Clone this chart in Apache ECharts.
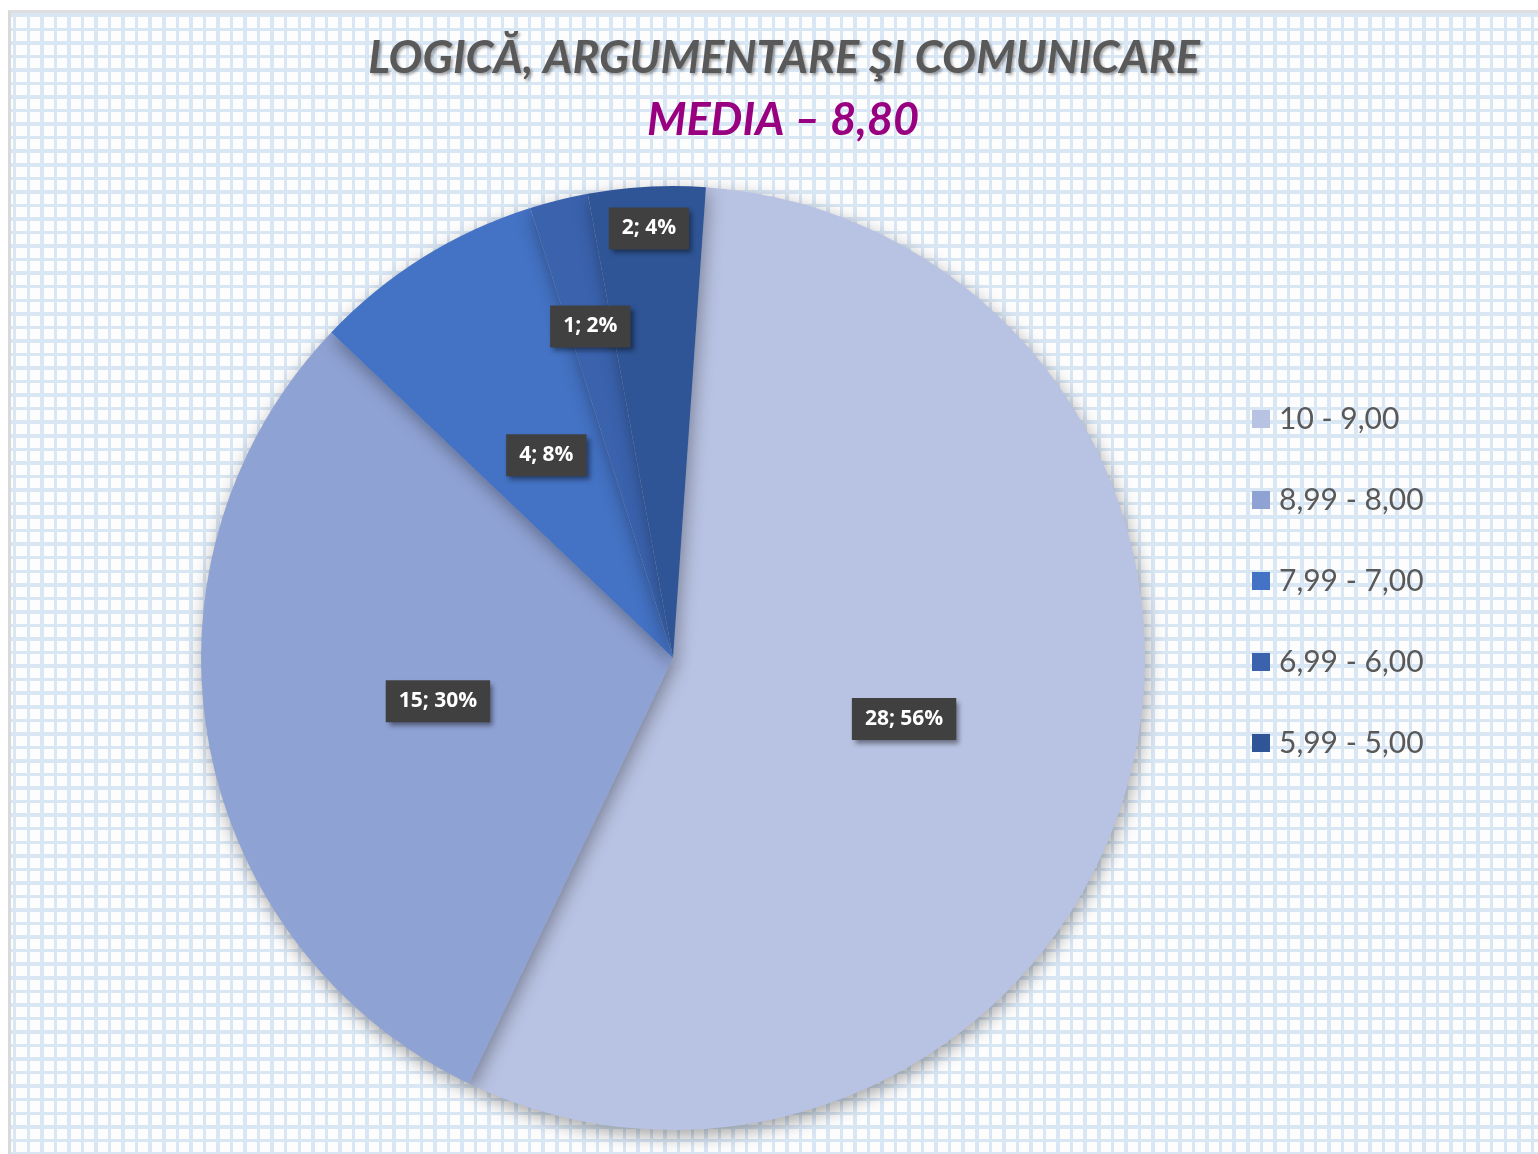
<!DOCTYPE html>
<html>
<head>
<meta charset="utf-8">
<script src="https://cdn.jsdelivr.net/npm/echarts@6/dist/echarts.min.js"></script>
<style>
	html, body { margin: 0; padding: 0; background: #ffffff; }
	#wrap {
		position: relative;
		width: 1538px;
		height: 1154px;
		overflow: hidden;
	}
	#paper {
		position: absolute;
		left: 8px;
		top: 10px;
		right: 0;
		bottom: 0;
		border-left: 3px solid #d9d9d9;
		border-top: 3px solid #dedede;
		background-color: #fdfdfd;
		background-image:
			repeating-linear-gradient(to right, #d9e6f4 0px, #d9e6f4 3.5px, transparent 3.5px, transparent 13.55px),
			repeating-linear-gradient(to bottom, #d9e6f4 0px, #d9e6f4 3.5px, transparent 3.5px, transparent 13.55px);
		background-position: 2px 1px;
	}
	#main {
		position: absolute;
		left: 0;
		top: 0;
		width: 1538px;
		height: 1154px;
	}
</style>
</head>
<body>
<div id="wrap">
	<div id="paper"></div>
	<div id="main"></div>
</div>
<script>
// categorii (intervale de note) si numarul de elevi
var categories = ['10 - 9,00', '8,99 - 8,00', '7,99 - 7,00', '6,99 - 6,00', '5,99 - 5,00']
var counts = [28, 15, 4, 1, 2]
var colors = ['#b8c2e2', '#8fa2d4', '#4472c4', '#3a62ad', '#2f5597']

var titleText = 'LOGICĂ, ARGUMENTARE ŞI COMUNICARE'
var subText = 'MEDIA – 8,80'

var cx = 673
var cy = 658
var radius = 472

var chart = echarts.init(document.getElementById('main'), null, {renderer: 'canvas'})

var data = []
for (var x = 0; x < categories.length; x++) {
	data.push({name: categories[x], value: counts[x], itemStyle: {color: colors[x]}})
}

//pozitia etichetelor (fractiune din raza), ca in Excel "best fit"
var labelFrac = {3: 0.715, 4: 0.9}

var option = {
	backgroundColor: 'transparent',
	animation: false,
	graphic: [
		{
			type: 'text',
			x: 784,
			y: 36,
			style: {
				text: titleText,
				align: 'center',
				fill: '#595959',
				font: 'italic bold 45px Lato, "Open Sans", sans-serif',
				textShadowColor: 'rgba(0,0,0,0.35)',
				textShadowBlur: 3,
				textShadowOffsetX: 2,
				textShadowOffsetY: 2
			}
		},
		{
			type: 'text',
			x: 783,
			y: 98,
			style: {
				text: subText,
				align: 'center',
				fill: '#990080',
				font: 'italic bold 45px Lato, "Open Sans", sans-serif'
			}
		}
	],
	legend: {
		orient: 'vertical',
		left: 1247,
		top: 399,
		icon: 'rect',
		itemWidth: 18,
		itemHeight: 18,
		itemGap: 51,
		textStyle: {
			color: '#595959',
			fontSize: 30,
			fontFamily: 'Lato, "Open Sans", sans-serif',
			lineHeight: 30,
			padding: [0, 0, 0, 4]
		},
		data: categories
	},
	series: [{
		type: 'pie',
		center: [cx, cy],
		radius: [0, radius],
		startAngle: 86,
		clockwise: true,
		avoidLabelOverlap: false,
		itemStyle: {
			shadowBlur: 18,
			shadowColor: 'rgba(0,0,0,0.35)',
			shadowOffsetX: 2,
			shadowOffsetY: 6
		},
		emphasis: {disabled: true},
		label: {
			show: true,
			position: 'inside',
			formatter: function(p) {
				return p.value + '; ' + Math.round(p.percent) + '%'
			},
			color: '#ffffff',
			fontWeight: 'bold',
			fontSize: 21,
			fontFamily: '"Open Sans", sans-serif',
			backgroundColor: '#404040',
			padding: [11, 13, 10, 13],
			shadowColor: 'rgba(0,0,0,0.45)',
			shadowBlur: 5,
			shadowOffsetX: 3,
			shadowOffsetY: 4
		},
		labelLine: {show: false},
		labelLayout: function(params) {
			var f = labelFrac[params.dataIndex]
			if (!f) return {}
			var r = params.labelRect
			var lx = r.x + r.width / 2
			var ly = r.y + r.height / 2
			var k = f / 0.5 - 1
			return {dx: (lx - cx) * k, dy: (ly - cy) * k}
		},
		data: data
	}]
}

chart.setOption(option)
</script>
</body>
</html>
